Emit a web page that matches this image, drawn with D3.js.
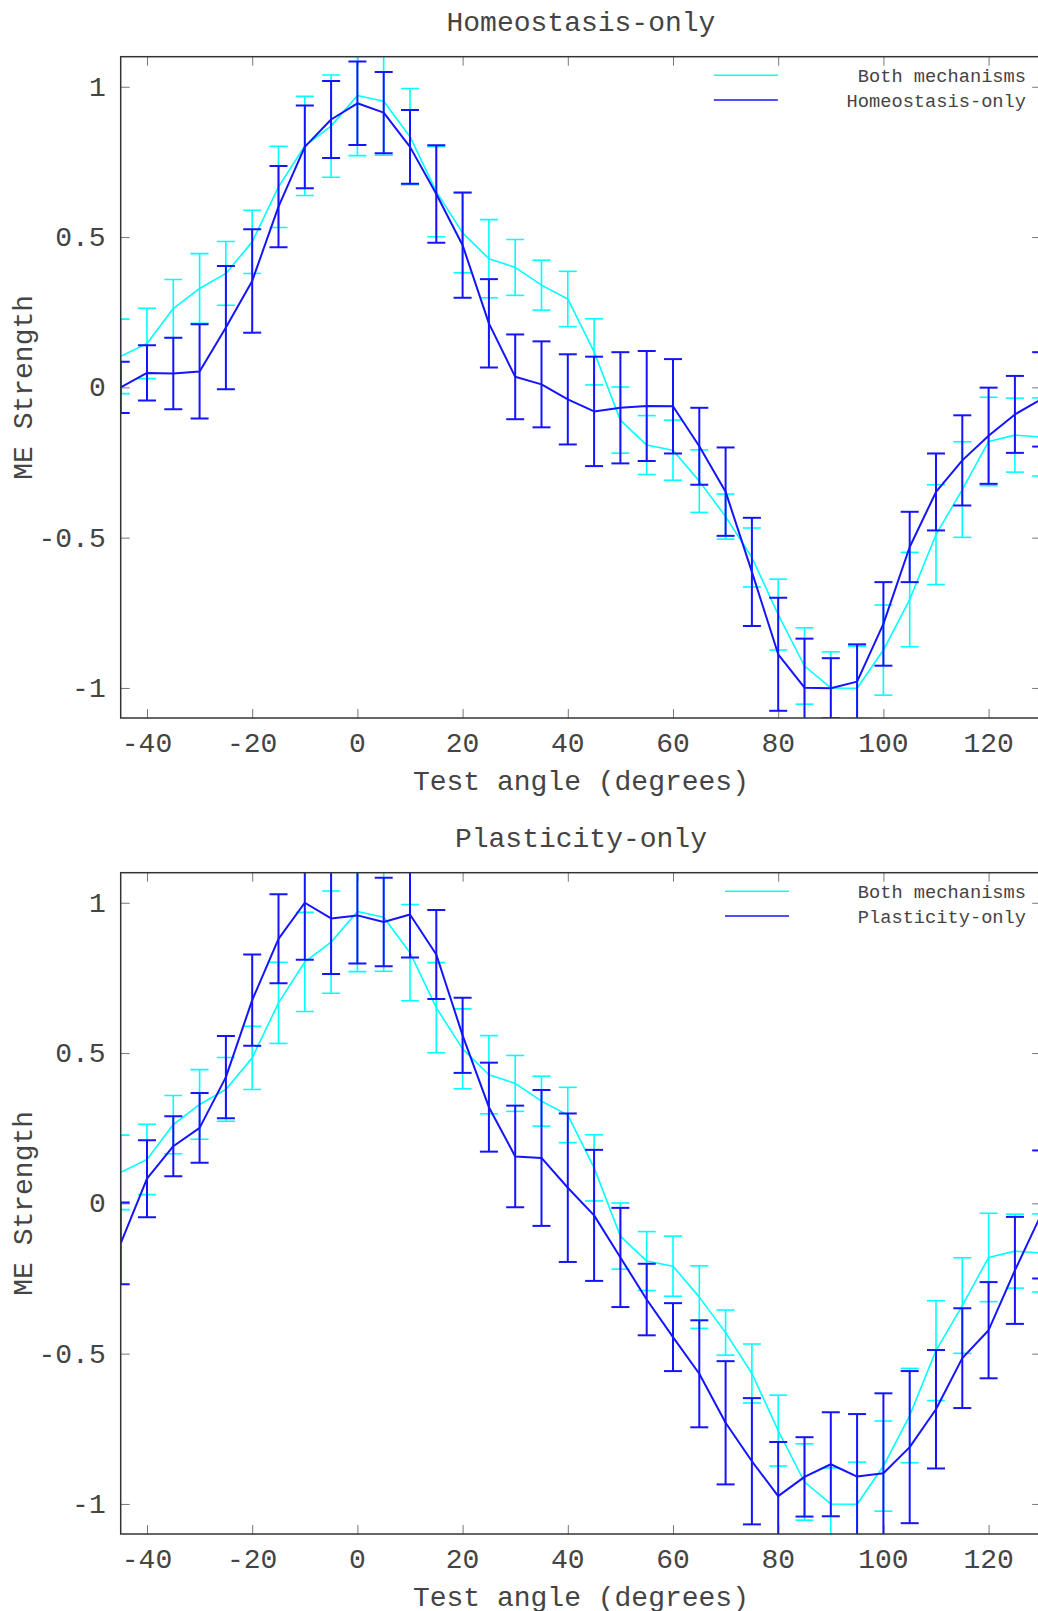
<!DOCTYPE html>
<html>
<head>
<meta charset="utf-8">
<script src="https://cdn.jsdelivr.net/npm/d3@7"></script>
<style>
  body { margin: 0; background: #fff; }
  svg { display: block; }
  text { font-family: "Liberation Mono", "Courier New", monospace; fill: #444; }
</style>
</head>
<body>
<svg id="chart" width="1038" height="1611"></svg>
<script>
// Test angles (degrees)
const angles = [-45, -40, -35, -30, -25, -20, -15, -10, -5, 0, 5, 10, 15, 20, 25, 30, 35, 40,
                45, 50, 55, 60, 65, 70, 75, 80, 85, 90, 95, 100, 105, 110, 115, 120, 125, 130];

// Both mechanisms: mean ME strength and error
const bothMean = [0.103, 0.146, 0.262, 0.329, 0.379, 0.484, 0.667, 0.803, 0.869, 0.971, 0.952, 0.834,
                  0.651, 0.514, 0.428, 0.399, 0.340, 0.294, 0.118, -0.109, -0.192, -0.209, -0.312, -0.430,
                  -0.566, -0.756, -0.927, -1.000, -1.001, -0.874, -0.706, -0.490, -0.340, -0.180, -0.159, -0.165];
const bothErr = [0.124, 0.117, 0.097, 0.116, 0.106, 0.105, 0.135, 0.165, 0.170, 0.200, 0.180, 0.160,
                 0.150, 0.133, 0.130, 0.093, 0.083, 0.092, 0.110, 0.110, 0.098, 0.100, 0.104, 0.075,
                 0.098, 0.118, 0.127, 0.120, 0.140, 0.150, 0.157, 0.166, 0.159, 0.147, 0.123, 0.130];

// Homeostasis-only
const homeoMean = [0.000, 0.048, 0.046, 0.053, 0.199, 0.354, 0.601, 0.800, 0.891, 0.945, 0.914, 0.800,
                   0.643, 0.473, 0.213, 0.035, 0.010, -0.040, -0.080, -0.068, -0.062, -0.063, -0.196, -0.347,
                   -0.614, -0.888, -0.999, -1.001, -0.979, -0.787, -0.531, -0.348, -0.243, -0.161, -0.090, -0.040];
const homeoErr = [0.085, 0.092, 0.119, 0.157, 0.205, 0.172, 0.135, 0.138, 0.128, 0.139, 0.135, 0.123,
                  0.162, 0.175, 0.147, 0.141, 0.143, 0.150, 0.182, 0.185, 0.183, 0.157, 0.128, 0.147,
                  0.180, 0.188, 0.163, 0.100, 0.124, 0.139, 0.117, 0.128, 0.150, 0.160, 0.128, 0.157];

// Plasticity-only
const plastMean = [-0.133, 0.082, 0.190, 0.251, 0.420, 0.676, 0.880, 1.000, 0.948, 0.958, 0.936, 0.961,
                   0.828, 0.559, 0.320, 0.156, 0.151, 0.052, -0.040, -0.180, -0.320, -0.445, -0.567, -0.730,
                   -0.858, -0.974, -0.910, -0.868, -0.909, -0.898, -0.811, -0.685, -0.515, -0.422, -0.223, -0.037];
const plastErr = [0.136, 0.128, 0.100, 0.116, 0.137, 0.152, 0.148, 0.190, 0.185, 0.160, 0.147, 0.143,
                  0.148, 0.125, 0.148, 0.169, 0.226, 0.247, 0.218, 0.165, 0.119, 0.113, 0.178, 0.205,
                  0.210, 0.180, 0.132, 0.173, 0.208, 0.266, 0.253, 0.197, 0.166, 0.160, 0.178, 0.213];

// Axis ticks
const xTickValues = [-40, -20, 0, 20, 40, 60, 80, 100, 120];
const yTickValues = [-1, -0.5, 0, 0.5, 1];
const yTickLabels = ["-1", "-0.5", "0", "0.5", "1"];

const panelTitles = ["Homeostasis-only", "Plasticity-only"];
const bothLabel = "Both mechanisms";
const xAxisTitle = "Test angle (degrees)";
const yAxisTitle = "ME Strength";

const panels = [
  { title: panelTitles[0], mean: homeoMean, err: homeoErr },
  { title: panelTitles[1], mean: plastMean, err: plastErr }
];

const cyan = "#00ffff";
const blue = "#1414ff";

const svg = d3.select("#chart");

const plotLeft = 120.7, plotRight = 1041.2;
const panelTop = 56.7, panelBottom = 718.0, panelStep = 816;

const x = d3.scaleLinear().domain([-45, 130]).range([plotLeft, plotRight]);

function series(mean, err) {
  return angles.map((a, i) => ({ a, m: mean[i], e: err[i] }));
}

panels.forEach((p, pi) => {
  const top = panelTop + pi * panelStep;
  const bottom = panelBottom + pi * panelStep;
  const y = d3.scaleLinear().domain([-1.1, 1.1]).range([bottom, top]);
  const g = svg.append("g");

  const clipId = "clip" + pi;
  svg.append("defs").append("clipPath").attr("id", clipId)
    .append("rect").attr("x", plotLeft).attr("y", top)
    .attr("width", plotRight - plotLeft).attr("height", bottom - top);

  // Title
  g.append("text").attr("x", (plotLeft + plotRight) / 2).attr("y", top - 26)
    .attr("text-anchor", "middle").style("font-size", "28px").text(p.title);

  // Tick marks on all four sides, pointing inward
  const tickStroke = "#777";
  g.append("g").attr("transform", `translate(0,${bottom})`)
    .call(d3.axisBottom(x).tickValues(xTickValues).tickSizeInner(-9).tickSizeOuter(0).tickFormat(""))
    .call(s => { s.select(".domain").remove(); s.selectAll("line").attr("stroke", tickStroke); });
  g.append("g").attr("transform", `translate(0,${top})`)
    .call(d3.axisTop(x).tickValues(xTickValues).tickSizeInner(-9).tickSizeOuter(0).tickFormat(""))
    .call(s => { s.select(".domain").remove(); s.selectAll("line").attr("stroke", tickStroke); });
  g.append("g").attr("transform", `translate(${plotLeft},0)`)
    .call(d3.axisLeft(y).tickValues(yTickValues).tickSizeInner(-9).tickSizeOuter(0).tickFormat(""))
    .call(s => { s.select(".domain").remove(); s.selectAll("line").attr("stroke", tickStroke); });
  g.append("g").attr("transform", `translate(${plotRight},0)`)
    .call(d3.axisRight(y).tickValues(yTickValues).tickSizeInner(-9).tickSizeOuter(0).tickFormat(""))
    .call(s => { s.select(".domain").remove(); s.selectAll("line").attr("stroke", tickStroke); });

  // Tick labels
  g.selectAll(".xl").data(xTickValues).enter().append("text")
    .attr("x", d => x(d)).attr("y", bottom + 34)
    .attr("text-anchor", "middle").style("font-size", "28px")
    .text(d => String(d));
  g.selectAll(".yl").data(yTickValues).enter().append("text")
    .attr("x", plotLeft - 15).attr("y", d => y(d) + 9)
    .attr("text-anchor", "end").style("font-size", "28px")
    .text((d, i) => yTickLabels[i]);

  // Axis titles
  g.append("text").attr("x", (plotLeft + plotRight) / 2).attr("y", bottom + 72)
    .attr("text-anchor", "middle").style("font-size", "28px").text(xAxisTitle);
  g.append("text")
    .attr("transform", `translate(32,${(top + bottom) / 2}) rotate(-90)`)
    .attr("text-anchor", "middle").style("font-size", "28px").text(yAxisTitle);

  // Data layers
  const data = g.append("g").attr("clip-path", `url(#${clipId})`);
  const line = d3.line().x(d => x(d.a)).y(d => y(d.m));

  function drawSeries(rows, color, width) {
    const s = data.append("g").attr("stroke", color).attr("fill", "none");
    const bars = s.selectAll("g").data(rows).enter().append("g").attr("stroke-width", width);
    bars.append("line")
      .attr("x1", d => x(d.a)).attr("x2", d => x(d.a))
      .attr("y1", d => y(d.m - d.e)).attr("y2", d => y(d.m + d.e));
    bars.append("line")
      .attr("x1", d => x(d.a) - 9).attr("x2", d => x(d.a) + 9)
      .attr("y1", d => y(d.m + d.e)).attr("y2", d => y(d.m + d.e));
    bars.append("line")
      .attr("x1", d => x(d.a) - 9).attr("x2", d => x(d.a) + 9)
      .attr("y1", d => y(d.m - d.e)).attr("y2", d => y(d.m - d.e));
    s.append("path").datum(rows).attr("d", line).attr("stroke-width", width)
      .attr("stroke-linejoin", "round");
  }
  drawSeries(series(bothMean, bothErr), cyan, 1.6);
  drawSeries(series(p.mean, p.err), blue, 2);

  // Plot border
  g.append("rect").attr("x", plotLeft).attr("y", top)
    .attr("width", plotRight - plotLeft).attr("height", bottom - top)
    .attr("fill", "none").attr("stroke", "#333").attr("stroke-width", 1.5);

  // Legend
  const labels = [bothLabel, p.title];
  const colors = [cyan, blue];
  const textRight = 1026, charW = 11.2;
  const maxLen = d3.max(labels, l => l.length);
  const sampleEnd = textRight - maxLen * charW - 69;
  labels.forEach((lab, li) => {
    const ly = top + 18.5 + li * 24.8;
    g.append("line").attr("x1", sampleEnd - 64).attr("x2", sampleEnd)
      .attr("y1", ly).attr("y2", ly).attr("stroke", colors[li]).attr("stroke-width", 1.6);
    g.append("text").attr("x", textRight).attr("y", ly + 7)
      .attr("text-anchor", "end").style("font-size", "18.7px").text(lab);
  });
});
</script>
</body>
</html>
